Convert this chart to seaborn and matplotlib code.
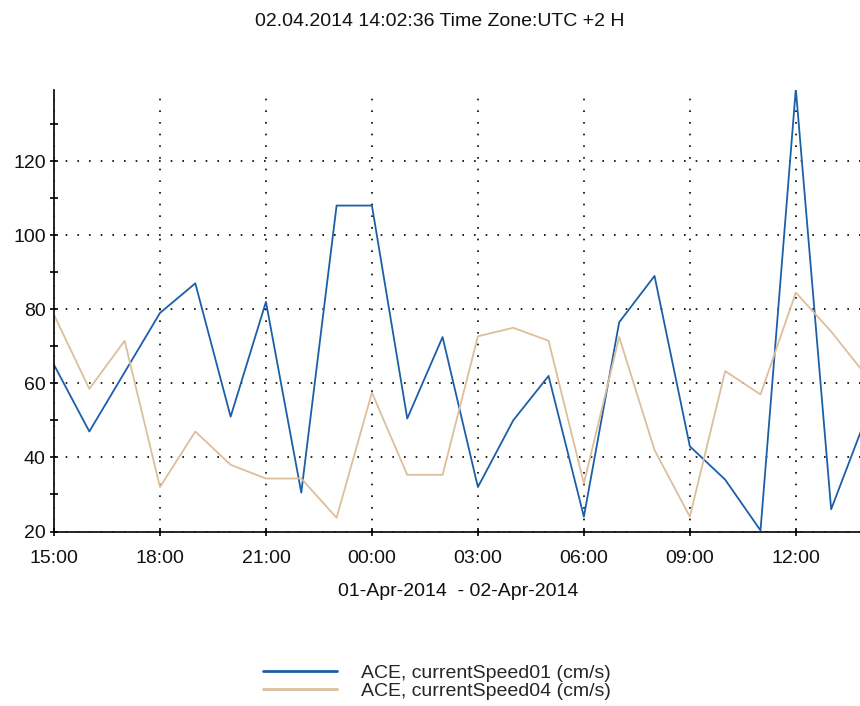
import pandas as pd
import numpy as np
import matplotlib
matplotlib.use("Agg")
import matplotlib.pyplot as plt
import matplotlib.dates as mdates
from matplotlib.ticker import MultipleLocator
import seaborn as sns

# hourly readings, 01-Apr-2014 15:00 .. 02-Apr-2014 14:00
times = pd.date_range("2014-04-01 15:00", periods=24, freq="h")
speed01 = [65, 47, 63, 79, 87, 51, 82, 30.5, 108, 108, 50.5, 72.5,
           32, 50, 62, 24, 76.5, 89, 43, 34, 20.3, 139.5, 26, 51]
speed04 = [78.5, 58.5, 71.5, 32, 47, 38, 34.3, 34.3, 23.7, 57.5, 35.3, 35.3,
           72.7, 75, 71.5, 33, 72.5, 42, 24, 63.3, 57, 84.5, 74, 62]
labels = ["ACE, currentSpeed01 (cm/s)", "ACE, currentSpeed04 (cm/s)"]
colors = ["#1c5fa8", "#dcbf9c"]

df = pd.DataFrame({
    "time": list(times) * 2,
    "speed": speed01 + speed04,
    "series": [labels[0]] * 24 + [labels[1]] * 24,
})

sns.set_style("ticks")
plt.rcParams["font.family"] = ["Liberation Sans", "DejaVu Sans"]
fs = 14

fig = plt.figure(figsize=(8.6, 7.06), dpi=100)
ax = fig.add_axes([54 / 860, 1 - 531.5 / 706, 1 - 54 / 860, 441.5 / 706])

sns.lineplot(data=df, x="time", y="speed", hue="series", palette=colors,
             ax=ax, legend=False, linewidth=1.3)

ax.set_xlim(pd.Timestamp("2014-04-01 15:00"), pd.Timestamp("2014-04-02 13:49"))
ax.set_ylim(20, 139.2)
ax.xaxis.set_major_locator(mdates.HourLocator(byhour=range(0, 24, 3)))
ax.xaxis.set_major_formatter(mdates.DateFormatter("%H:%M"))
ax.yaxis.set_major_locator(MultipleLocator(20))
ax.yaxis.set_minor_locator(MultipleLocator(10))

ax.grid(True, which="major", color="black", linestyle=(0, (1, 6)), linewidth=1.2)
for s in ["top", "right"]:
    ax.spines[s].set_visible(False)
for s in ["left", "bottom"]:
    ax.spines[s].set_linewidth(1.2)
    ax.spines[s].set_color("black")
ax.tick_params(which="both", direction="inout", length=6, width=1.2, color="black",
               labelsize=fs, labelcolor="#111111")
ax.tick_params(axis="x", pad=10)
ax.tick_params(axis="y", pad=3)
ax.set_xlabel("")
ax.set_ylabel("")

fig.text(440 / 860, 1 - 22 / 706, "02.04.2014 14:02:36 Time Zone:UTC +2 H",
         ha="center", va="center", fontsize=fs, color="#111111")
fig.text(458 / 860, 1 - 592 / 706, "01-Apr-2014  - 02-Apr-2014",
         ha="center", va="center", fontsize=fs, color="#111111")

handles = [plt.Line2D([], [], color=c, linewidth=2) for c in colors]
fig.legend(handles, labels, loc="center", bbox_to_anchor=(437 / 860, 1 - 682 / 706),
           frameon=False, fontsize=fs, handlelength=3.8, handletextpad=1.2,
           labelspacing=0.0, borderpad=0)

fig.savefig("out.png", dpi=100)
